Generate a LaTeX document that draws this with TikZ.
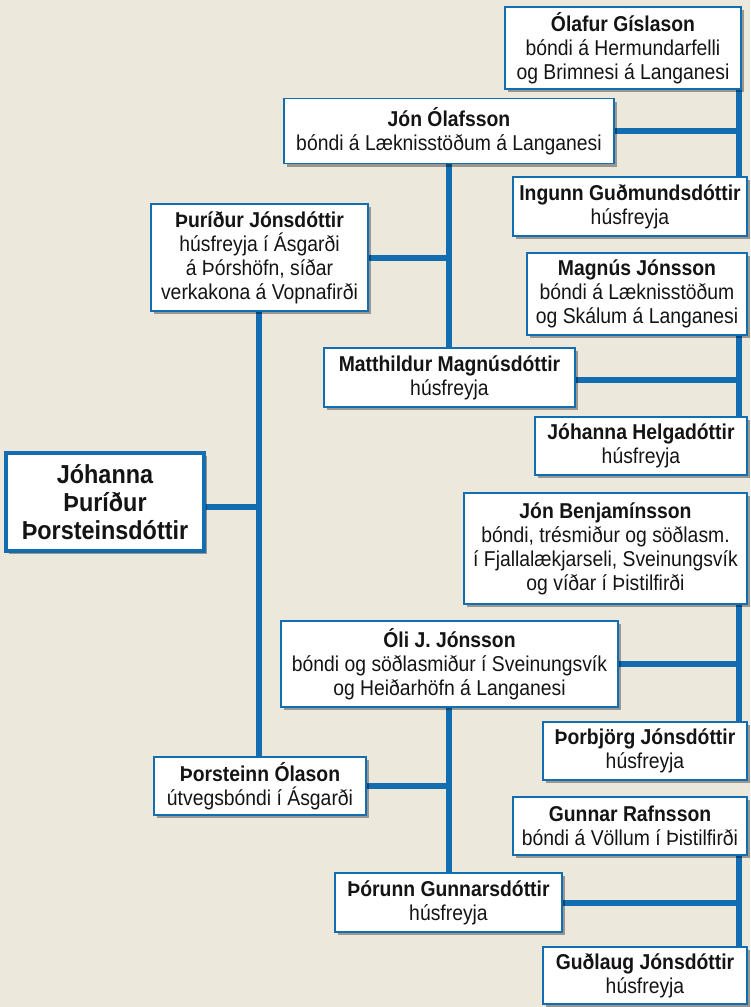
\documentclass[tikz,border=0pt]{standalone}
\usepackage{fontspec}
\setmainfont[FakeStretch=0.9]{Liberation Sans}
\usetikzlibrary{shadows}
\definecolor{bg}{RGB}{236,233,220}
\definecolor{lineblue}{RGB}{18,110,176}
\definecolor{ink}{RGB}{20,20,20}
\pgfdeclarelayer{bglayer}
\pgfdeclarelayer{lines}
\pgfsetlayers{bglayer,lines,main}
\tikzset{
  person/.style={draw=lineblue, line width=1.5pt, fill=white, align=center, inner sep=2pt,
    text=ink, font=\fontsize{21.5}{24}\selectfont,
    drop shadow={shadow xshift=3pt, shadow yshift=-3pt, opacity=0.35, fill=black}},
  conn/.style={draw=lineblue, line width=6pt}
}
\begin{document}
\begin{tikzpicture}[x=1pt,y=-1pt]
\begin{pgfonlayer}{bglayer}
\fill[bg] (0,0) rectangle (750,1007);
\end{pgfonlayer}
\useasboundingbox (0,0) rectangle (750,1007);

\coordinate (ltrunk) at (259,0);
\coordinate (mtrunk) at (449,0);
\coordinate (rtrunk) at (739,0);

\node[person, minimum width=236pt, minimum height=82pt] (olafur) at (623,48)
  {\textbf{Ólafur Gíslason}\\bóndi á Hermundarfelli\\og Brimnesi á Langanesi};
\node[person, minimum width=330pt, minimum height=65pt] (jonO) at (449,131)
  {\textbf{Jón Ólafsson}\\bóndi á Læknisstöðum á Langanesi};
\node[person, minimum width=234pt, minimum height=59pt] (ingunn) at (630,206.5)
  {\textbf{Ingunn Guðmundsdóttir}\\húsfreyja};
\node[person, minimum width=217pt, minimum height=107pt] (thuridur) at (259.5,257.5)
  {\textbf{Þuríður Jónsdóttir}\\húsfreyja í Ásgarði\\á Þórshöfn, síðar\\verkakona á Vopnafirði};
\node[person, minimum width=220pt, minimum height=82pt] (magnus) at (637,294)
  {\textbf{Magnús Jónsson}\\bóndi á Læknisstöðum\\og Skálum á Langanesi};
\node[person, minimum width=251pt, minimum height=59pt] (matthildur) at (449.5,377.5)
  {\textbf{Matthildur Magnúsdóttir}\\húsfreyja};
\node[person, minimum width=212pt, minimum height=58pt] (johannaH) at (641,446)
  {\textbf{Jóhanna Helgadóttir}\\húsfreyja};
\node[person, line width=4pt, minimum width=198pt, minimum height=98pt,
  font=\fontsize{26}{28}\selectfont\bfseries] (main) at (105,502)
  {Jóhanna\\Þuríður\\Þorsteinsdóttir};
\node[person, minimum width=283pt, minimum height=111pt] (jonB) at (605.5,548.5)
  {\textbf{Jón Benjamínsson}\\bóndi, trésmiður og söðlasm.\\í Fjallalækjarseli, Sveinungsvík\\og víðar í Þistilfirði};
\node[person, minimum width=337pt, minimum height=86pt] (oli) at (449.5,664)
  {\textbf{Óli J. Jónsson}\\bóndi og söðlasmiður í Sveinungsvík\\og Heiðarhöfn á Langanesi};
\node[person, minimum width=204pt, minimum height=58pt] (thorbjorg) at (645,751)
  {\textbf{Þorbjörg Jónsdóttir}\\húsfreyja};
\node[person, minimum width=212pt, minimum height=58pt] (thorsteinn) at (260,786)
  {\textbf{Þorsteinn Ólason}\\útvegsbóndi í Ásgarði};
\node[person, minimum width=234pt, minimum height=58pt] (gunnar) at (630,826)
  {\textbf{Gunnar Rafnsson}\\bóndi á Völlum í Þistilfirði};
\node[person, minimum width=227pt, minimum height=59pt] (thorunn) at (448.5,902.5)
  {\textbf{Þórunn Gunnarsdóttir}\\húsfreyja};
\node[person, minimum width=204pt, minimum height=57pt] (gudlaug) at (645,975.5)
  {\textbf{Guðlaug Jónsdóttir}\\húsfreyja};

\coordinate (mainout) at ([yshift=-5pt]main.east);
\coordinate (mattout) at ([yshift=-2pt]matthildur.east);

\begin{pgfonlayer}{lines}
\draw[conn] (olafur.south -| rtrunk) -- (ingunn.north -| rtrunk);
\draw[conn] (jonO.east) -- (jonO.east -| rtrunk);
\draw[conn] (jonO.south -| mtrunk) -- (matthildur.north -| mtrunk);
\draw[conn] (thuridur.east) -- (thuridur.east -| mtrunk);
\draw[conn] (magnus.south -| rtrunk) -- (johannaH.north -| rtrunk);
\draw[conn] (mattout) -- (mattout -| rtrunk);
\draw[conn] (thuridur.south -| ltrunk) -- (thorsteinn.north -| ltrunk);
\draw[conn] (mainout) -- (mainout -| ltrunk);
\draw[conn] (jonB.south -| rtrunk) -- (thorbjorg.north -| rtrunk);
\draw[conn] (oli.east) -- (oli.east -| rtrunk);
\draw[conn] (oli.south -| mtrunk) -- (thorunn.north -| mtrunk);
\draw[conn] (thorsteinn.east) -- (thorsteinn.east -| mtrunk);
\draw[conn] (gunnar.south -| rtrunk) -- (gudlaug.north -| rtrunk);
\draw[conn] (thorunn.east) -- (thorunn.east -| rtrunk);
\end{pgfonlayer}
\end{tikzpicture}
\end{document}
